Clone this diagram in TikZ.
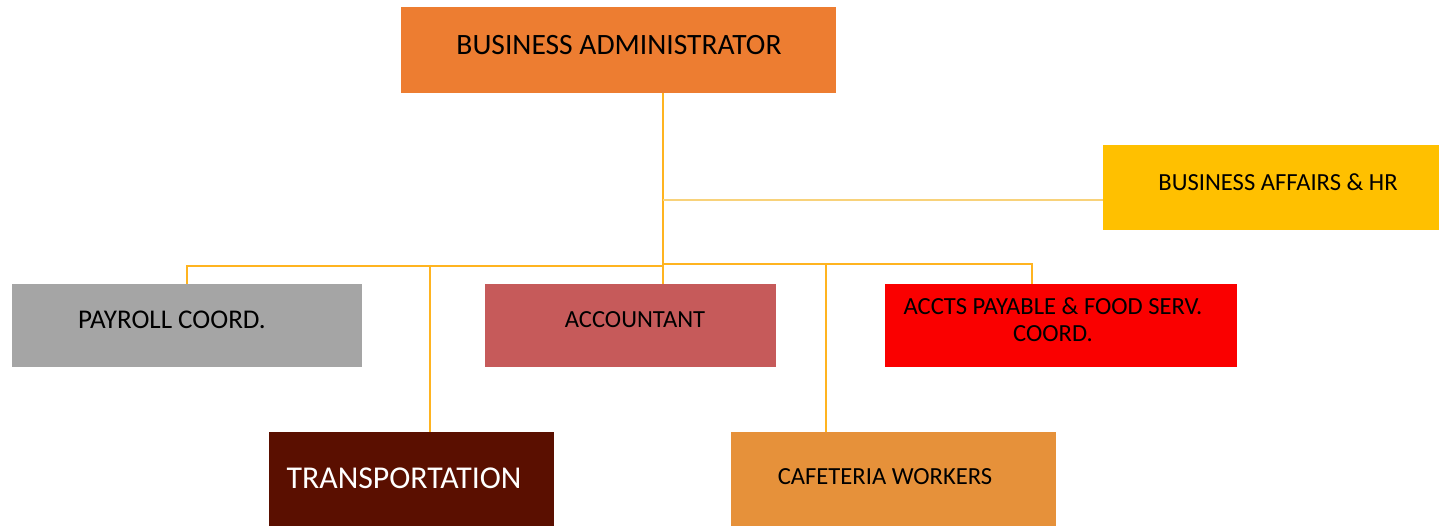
\documentclass[tikz,border=0pt]{standalone}
\usepackage{fontspec}
\setmainfont{Carlito}
\usetikzlibrary{calc}

\definecolor{adminorange}{HTML}{ED7D31}
\definecolor{affairsgold}{HTML}{FFC000}
\definecolor{payrollgrey}{HTML}{A5A5A5}
\definecolor{accountrose}{HTML}{C65A5A}
\definecolor{acctsred}{HTML}{FA0000}
\definecolor{transmaroon}{HTML}{5A0F00}
\definecolor{cafeorange}{HTML}{E6913A}
\definecolor{linkcol}{HTML}{FFB420}
\definecolor{linkpale}{HTML}{F8D27A}

\tikzset{
  orgbox/.style={inner sep=0pt},
  orgtext/.style={inner sep=0pt, align=center, text=black,
    font=\fontsize{14}{17}\selectfont},
  link/.style={draw=linkcol, line width=1.2pt},
}

\begin{document}
\begin{tikzpicture}[x=0.02cm,y=-0.02cm]
  \useasboundingbox (0,0) rectangle (1439,525);

  % boxes
  \node[orgbox, fill=adminorange, minimum width=8.7cm, minimum height=1.72cm]
    (admin) at (618.5,50) {};
  \node[orgbox, fill=affairsgold, minimum width=6.72cm, minimum height=1.7cm]
    (affairs) at (1271,187.5) {};
  \node[orgbox, fill=payrollgrey, minimum width=7cm, minimum height=1.66cm]
    (payroll) at (187,325.5) {};
  \node[orgbox, fill=accountrose, minimum width=5.82cm, minimum height=1.66cm]
    (accountant) at (630.5,325.5) {};
  \node[orgbox, fill=acctsred, minimum width=7.04cm, minimum height=1.66cm]
    (accts) at (1061,325.5) {};
  \node[orgbox, fill=transmaroon, minimum width=5.7cm, minimum height=2cm]
    (transport) at (411.5,482) {};
  \node[orgbox, fill=cafeorange, minimum width=6.5cm, minimum height=2cm]
    (cafeteria) at (893.5,482) {};

  % texts
  \node[orgtext, font=\fontsize{16.8}{19}\selectfont] (admintxt)
    at ($(admin)+(0.5,-5)$) {BUSINESS ADMINISTRATOR};
  \node[orgtext] (affairstxt) at ($(affairs)+(7,-5.5)$) {BUSINESS AFFAIRS \& HR};
  \node[orgtext, font=\fontsize{15.4}{18}\selectfont] (payrolltxt)
    at ($(payroll)+(-15,-5.5)$) {PAYROLL COORD.};
  \node[orgtext] (accountanttxt) at ($(accountant)+(4.5,-5.5)$) {ACCOUNTANT};
  \node[orgtext, font=\fontsize{14}{15.3}\selectfont] (acctstxt)
    at ($(accts)+(-8,-6)$) {ACCTS PAYABLE \& FOOD SERV.\\COORD.};
  \node[orgtext, text=white, font=\fontsize{18.1}{21}\selectfont] (transporttxt)
    at ($(transport)+(-7.5,-4)$) {TRANSPORTATION};
  \node[orgtext] (cafeteriatxt) at ($(cafeteria)+(-8.5,-5)$) {CAFETERIA WORKERS};

  % junctions
  \coordinate (trunk) at (663,266);
  \coordinate (sidejoin) at (663,200);
  \coordinate (rightbar) at (663,264);
  \coordinate (transdrop) at (430,266);
  \coordinate (cafedrop) at (826,264);
  \coordinate (acctsdrop) at (1032,284);

  % connectors
  \draw[link] (admin.south -| trunk) -- (trunk);
  \draw[draw=linkpale, line width=1.2pt] (sidejoin) -- (sidejoin -| affairs.west);
  \draw[link] (trunk) -| (payroll.north);
  \draw[link] (trunk) -- (accountant.north -| trunk);
  \draw[link] (rightbar) -| (acctsdrop);
  \draw[link] (transdrop) -- (transdrop |- transport.north);
  \draw[link] (cafedrop) -- (cafedrop |- cafeteria.north);
\end{tikzpicture}
\end{document}
